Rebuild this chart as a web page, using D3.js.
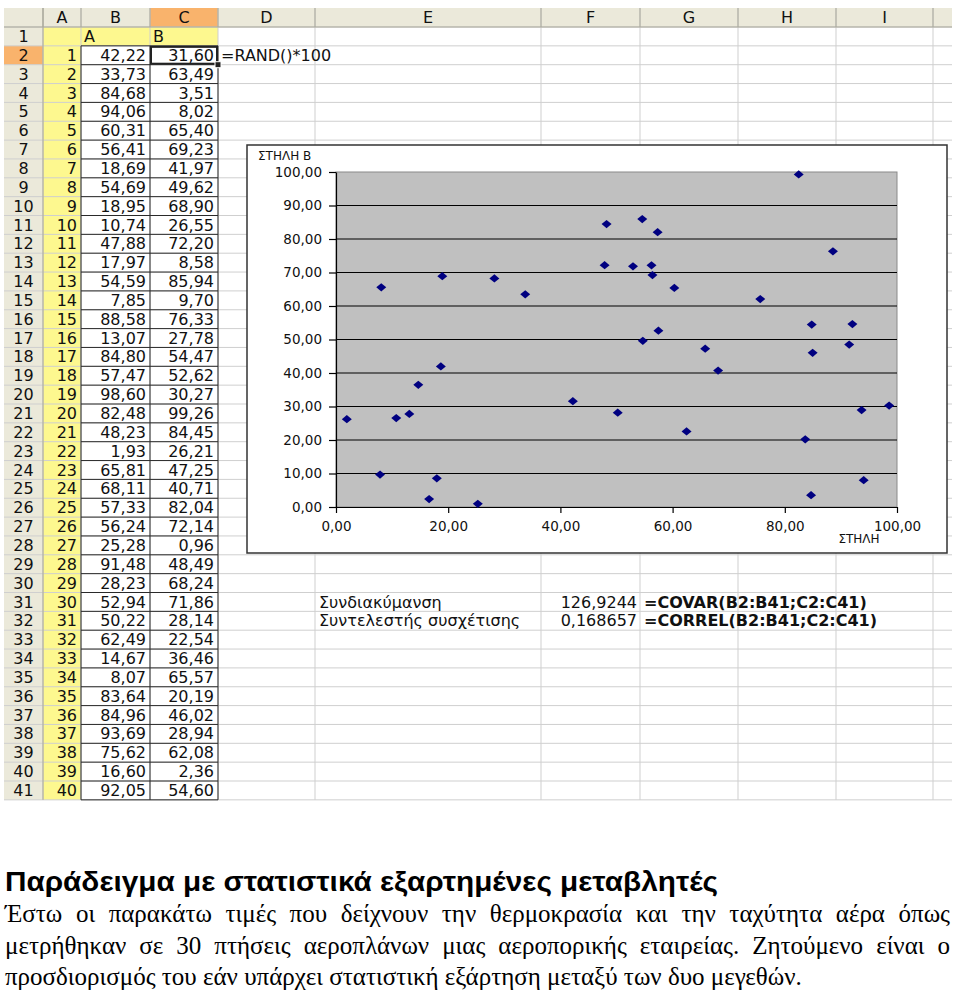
<!DOCTYPE html>
<html>
<head>
<meta charset="utf-8">
<title>Στατιστική εξάρτηση</title>
<script src="https://d3js.org/d3.v7.min.js"></script>
<style>
body { margin: 0; padding: 0; background: white; }
svg text { font-family: "DejaVu Sans", Verdana, sans-serif; }
</style>
</head>
<body>
<svg id="sheet" width="960" height="991"></svg>
<script>
// ---- data (column A and column B of the sheet) ----
var colA = [42.22, 33.73, 84.68, 94.06, 60.31, 56.41, 18.69, 54.69, 18.95, 10.74,
            47.88, 17.97, 54.59, 7.85, 88.58, 13.07, 84.80, 57.47, 98.60, 82.48,
            48.23, 1.93, 65.81, 68.11, 57.33, 56.24, 25.28, 91.48, 28.23, 52.94,
            50.22, 62.49, 14.67, 8.07, 83.64, 84.96, 93.69, 75.62, 16.60, 92.05];
var colB = [31.60, 63.49, 3.51, 8.02, 65.40, 69.23, 41.97, 49.62, 68.90, 26.55,
            72.20, 8.58, 85.94, 9.70, 76.33, 27.78, 54.47, 52.62, 30.27, 99.26,
            84.45, 26.21, 47.25, 40.71, 82.04, 72.14, 0.96, 48.49, 68.24, 71.86,
            28.14, 22.54, 36.46, 65.57, 20.19, 46.02, 28.94, 62.08, 2.36, 54.60];
var yTicks = [0, 10, 20, 30, 40, 50, 60, 70, 80, 90, 100];
var xTicks = [0, 20, 40, 60, 80, 100];
var statLabels = ["Συνδιακύμανση", "Συντελεστής συσχέτισης"];
var statValues = ["126,9244", "0,168657"];
var statFormulas = ["=COVAR(B2:B41;C2:C41)", "=CORREL(B2:B41;C2:C41)"];
var colNames = ["", "A", "B", "C", "D", "E", "F", "G", "H", "I", ""];

var title = "Παράδειγμα με στατιστικά εξαρτημένες μεταβλητές";
var lines = [
  "Έστω οι παρακάτω τιμές που δείχνουν την θερμοκρασία και την ταχύτητα αέρα όπως",
  "μετρήθηκαν σε 30 πτήσεις αεροπλάνων μιας αεροπορικής εταιρείας. Ζητούμενο είναι ο",
  "προσδιορισμός του εάν υπάρχει στατιστική εξάρτηση μεταξύ των δυο μεγεθών."
];

var gr = d3.formatLocale({decimal: ",", thousands: ".", grouping: [3], currency: ["", "€"]});
var f2 = gr.format(".2f");

var svg = d3.select("#sheet");

// ---- spreadsheet grid ----
var colEdges = [4, 43, 81, 150, 218, 315, 541, 640, 738, 836, 933, 952];
var headTop = 8, headBot = 27, rowH = 18.85, nRows = 41;
var rowTop = function(r) { return headBot + (r - 1) * rowH; };  // r = 1..41
var gridBot = rowTop(nRows + 1);

var grid = svg.append("g");

// header backgrounds
grid.append("rect").attr("x", colEdges[0]).attr("y", headTop)
  .attr("width", colEdges[colEdges.length - 1] - colEdges[0]).attr("height", headBot - headTop)
  .attr("fill", "#ebe9da");
grid.append("rect").attr("x", colEdges[0]).attr("y", headBot)
  .attr("width", colEdges[1] - colEdges[0]).attr("height", gridBot - headBot)
  .attr("fill", "#ebe9da");
// active column / row header
grid.append("rect").attr("x", colEdges[3]).attr("y", headTop)
  .attr("width", colEdges[4] - colEdges[3]).attr("height", headBot - headTop).attr("fill", "#f9b36c");
grid.append("rect").attr("x", colEdges[0]).attr("y", rowTop(2))
  .attr("width", colEdges[1] - colEdges[0]).attr("height", rowH).attr("fill", "#f9b36c");

// yellow cells: column A rows 1-41, B1, C1
grid.append("rect").attr("x", colEdges[1]).attr("y", rowTop(1))
  .attr("width", colEdges[2] - colEdges[1]).attr("height", gridBot - rowTop(1)).attr("fill", "#fdf88f");
grid.append("rect").attr("x", colEdges[2]).attr("y", rowTop(1))
  .attr("width", colEdges[4] - colEdges[2]).attr("height", rowH).attr("fill", "#fdf88f");

// light grid lines
var rowIdx = d3.range(1, nRows + 2);
grid.selectAll("line.h").data(rowIdx).join("line")
  .attr("x1", colEdges[0]).attr("x2", colEdges[colEdges.length - 1])
  .attr("y1", function(r) { return rowTop(r); }).attr("y2", function(r) { return rowTop(r); })
  .attr("stroke", "#cfcfcf").attr("stroke-width", 1);
grid.selectAll("line.v").data(colEdges.slice(1, -1)).join("line")
  .attr("x1", function(d) { return d; }).attr("x2", function(d) { return d; })
  .attr("y1", headTop).attr("y2", gridBot)
  .attr("stroke", "#cfcfcf").attr("stroke-width", 1);
// header separators slightly darker
grid.selectAll("line.hs").data(colEdges.slice(1, -1)).join("line")
  .attr("x1", function(d) { return d; }).attr("x2", function(d) { return d; })
  .attr("y1", headTop).attr("y2", headBot)
  .attr("stroke", "#a9a89a");
grid.append("line").attr("x1", colEdges[0]).attr("x2", colEdges[colEdges.length - 1])
  .attr("y1", headBot).attr("y2", headBot).attr("stroke", "#a9a89a");
grid.append("line").attr("x1", colEdges[1]).attr("x2", colEdges[1])
  .attr("y1", headTop).attr("y2", gridBot).attr("stroke", "#a9a89a");

// dark borders of the data block B2:C41
var blk = grid.append("g").attr("stroke", "#2a2a2a").attr("stroke-width", 1);
d3.range(2, nRows + 2).forEach(function(r) {
  blk.append("line").attr("x1", colEdges[2]).attr("x2", colEdges[4])
    .attr("y1", rowTop(r)).attr("y2", rowTop(r));
});
[2, 3, 4].forEach(function(c) {
  blk.append("line").attr("x1", colEdges[c]).attr("x2", colEdges[c])
    .attr("y1", rowTop(2)).attr("y2", gridBot);
});

// header texts
var txt = svg.append("g").attr("font-size", "16px").attr("fill", "#111");
colNames.forEach(function(n, i) {
  if (!n) return;
  txt.append("text").attr("x", (colEdges[i] + colEdges[i + 1]) / 2).attr("y", headTop + 15)
    .attr("text-anchor", "middle").text(n);
});
rowIdx.slice(0, nRows).forEach(function(r) {
  txt.append("text").attr("x", (colEdges[0] + colEdges[1]) / 2).attr("y", rowTop(r) + 15)
    .attr("text-anchor", "middle").text(r);
});
txt.append("text").attr("x", colEdges[2] + 3).attr("y", rowTop(1) + 15).text("A");
txt.append("text").attr("x", colEdges[3] + 3).attr("y", rowTop(1) + 15).text("B");
colA.forEach(function(v, i) {
  var r = i + 2;
  txt.append("text").attr("x", colEdges[2] - 4).attr("y", rowTop(r) + 15)
    .attr("text-anchor", "end").text(i + 1);
  txt.append("text").attr("x", colEdges[3] - 4).attr("y", rowTop(r) + 15)
    .attr("text-anchor", "end").text(f2(v));
  txt.append("text").attr("x", colEdges[4] - 4).attr("y", rowTop(r) + 15)
    .attr("text-anchor", "end").text(f2(colB[i]));
});
txt.append("text").attr("x", colEdges[4] + 3).attr("y", rowTop(2) + 15).text("=RAND()*100");

// selected cell C2
svg.append("rect").attr("x", colEdges[3] + 1).attr("y", rowTop(2) + 1)
  .attr("width", colEdges[4] - colEdges[3] - 2).attr("height", rowH - 2)
  .attr("fill", "none").attr("stroke", "#222").attr("stroke-width", 2);
svg.append("rect").attr("x", colEdges[4] - 3).attr("y", rowTop(3) - 3)
  .attr("width", 6).attr("height", 6).attr("fill", "#222").attr("stroke", "white");

// stats rows 31-32
statLabels.forEach(function(s, i) {
  var y = rowTop(31 + i) + 15;
  txt.append("text").attr("x", colEdges[5] + 4).attr("y", y).text(s);
  txt.append("text").attr("x", colEdges[7] - 3).attr("y", y).attr("text-anchor", "end").text(statValues[i]);
  txt.append("text").attr("x", colEdges[7] + 4).attr("y", y).attr("font-weight", "bold").text(statFormulas[i]);
});

// ---- embedded scatter chart ----
var chart = svg.append("g");
chart.append("rect").attr("x", 247).attr("y", 145).attr("width", 700).attr("height", 408)
  .attr("fill", "white").attr("stroke", "#333").attr("stroke-width", 1.5);

var x = d3.scaleLinear().domain([0, 100]).range([336, 897]);
var y = d3.scaleLinear().domain([0, 100]).range([507, 172]);

chart.append("rect").attr("x", x(0)).attr("y", y(100))
  .attr("width", x(100) - x(0)).attr("height", y(0) - y(100))
  .attr("fill", "#c0c0c0").attr("stroke", "#8a8a8a");

chart.append("g").selectAll("line").data(yTicks.filter(function(t) { return t > 0 && t < 100; }))
  .join("line")
  .attr("x1", x(0)).attr("x2", x(100))
  .attr("y1", function(d) { return y(d); }).attr("y2", function(d) { return y(d); })
  .attr("stroke", "#000").attr("stroke-width", 1.2);

var yAxis = chart.append("g").attr("transform", "translate(" + x(0) + ",0)")
  .call(d3.axisLeft(y).tickValues(yTicks).tickFormat(f2).tickSize(7).tickSizeOuter(0).tickPadding(7));
var xAxis = chart.append("g").attr("transform", "translate(0," + y(0) + ")")
  .call(d3.axisBottom(x).tickValues(xTicks).tickFormat(f2).tickSize(6).tickSizeOuter(0).tickPadding(6));
[yAxis, xAxis].forEach(function(a) {
  a.selectAll("path, line").attr("stroke", "#000").attr("stroke-width", 1.2);
  a.selectAll("text").style("font-family", "'DejaVu Sans', sans-serif").attr("font-size", "13.5px").attr("fill", "#111");
});
xAxis.selectAll("text").attr("dy", "0.9em");

chart.append("text").attr("x", 258).attr("y", 160).attr("font-size", "12px").attr("fill", "#111")
  .text("ΣΤΗΛΗ Β");
chart.append("text").attr("x", 859).attr("y", 543).attr("text-anchor", "middle")
  .attr("font-size", "12px").attr("fill", "#111").text("ΣΤΗΛΗ");

var pts = colA.map(function(v, i) { return {a: v, b: colB[i]}; });
chart.append("g").selectAll("path").data(pts).join("path")
  .attr("d", d3.symbol().type(d3.symbolDiamond2).size(48))
  .attr("transform", function(d) { return "translate(" + x(d.a) + "," + y(d.b) + ") scale(1.15,0.95)"; })
  .attr("fill", "#000080");

// ---- text below the sheet ----
svg.append("text").attr("x", 5).attr("y", 891)
  .style("font-family", "'Liberation Sans', Arial, sans-serif").attr("font-weight", "bold")
  .attr("font-size", "28px").attr("fill", "#000")
  .attr("textLength", 713).attr("lengthAdjust", "spacingAndGlyphs").text(title);

// justified paragraph: first two lines stretched by word spacing
var justify = [true, true, false];
lines.forEach(function(l, i) {
  var t = svg.append("text").attr("x", 5).attr("y", 922 + i * 31.5)
    .style("font-family", "'Liberation Serif', 'Times New Roman', serif")
    .attr("font-size", "25px").attr("fill", "#000")
    .text(l);
  if (justify[i]) {
    var w = t.node().getComputedTextLength();
    var gaps = l.split(" ").length - 1;
    t.style("word-spacing", ((950 - 5 - w) / gaps) + "px");
  }
});
</script>
</body>
</html>
